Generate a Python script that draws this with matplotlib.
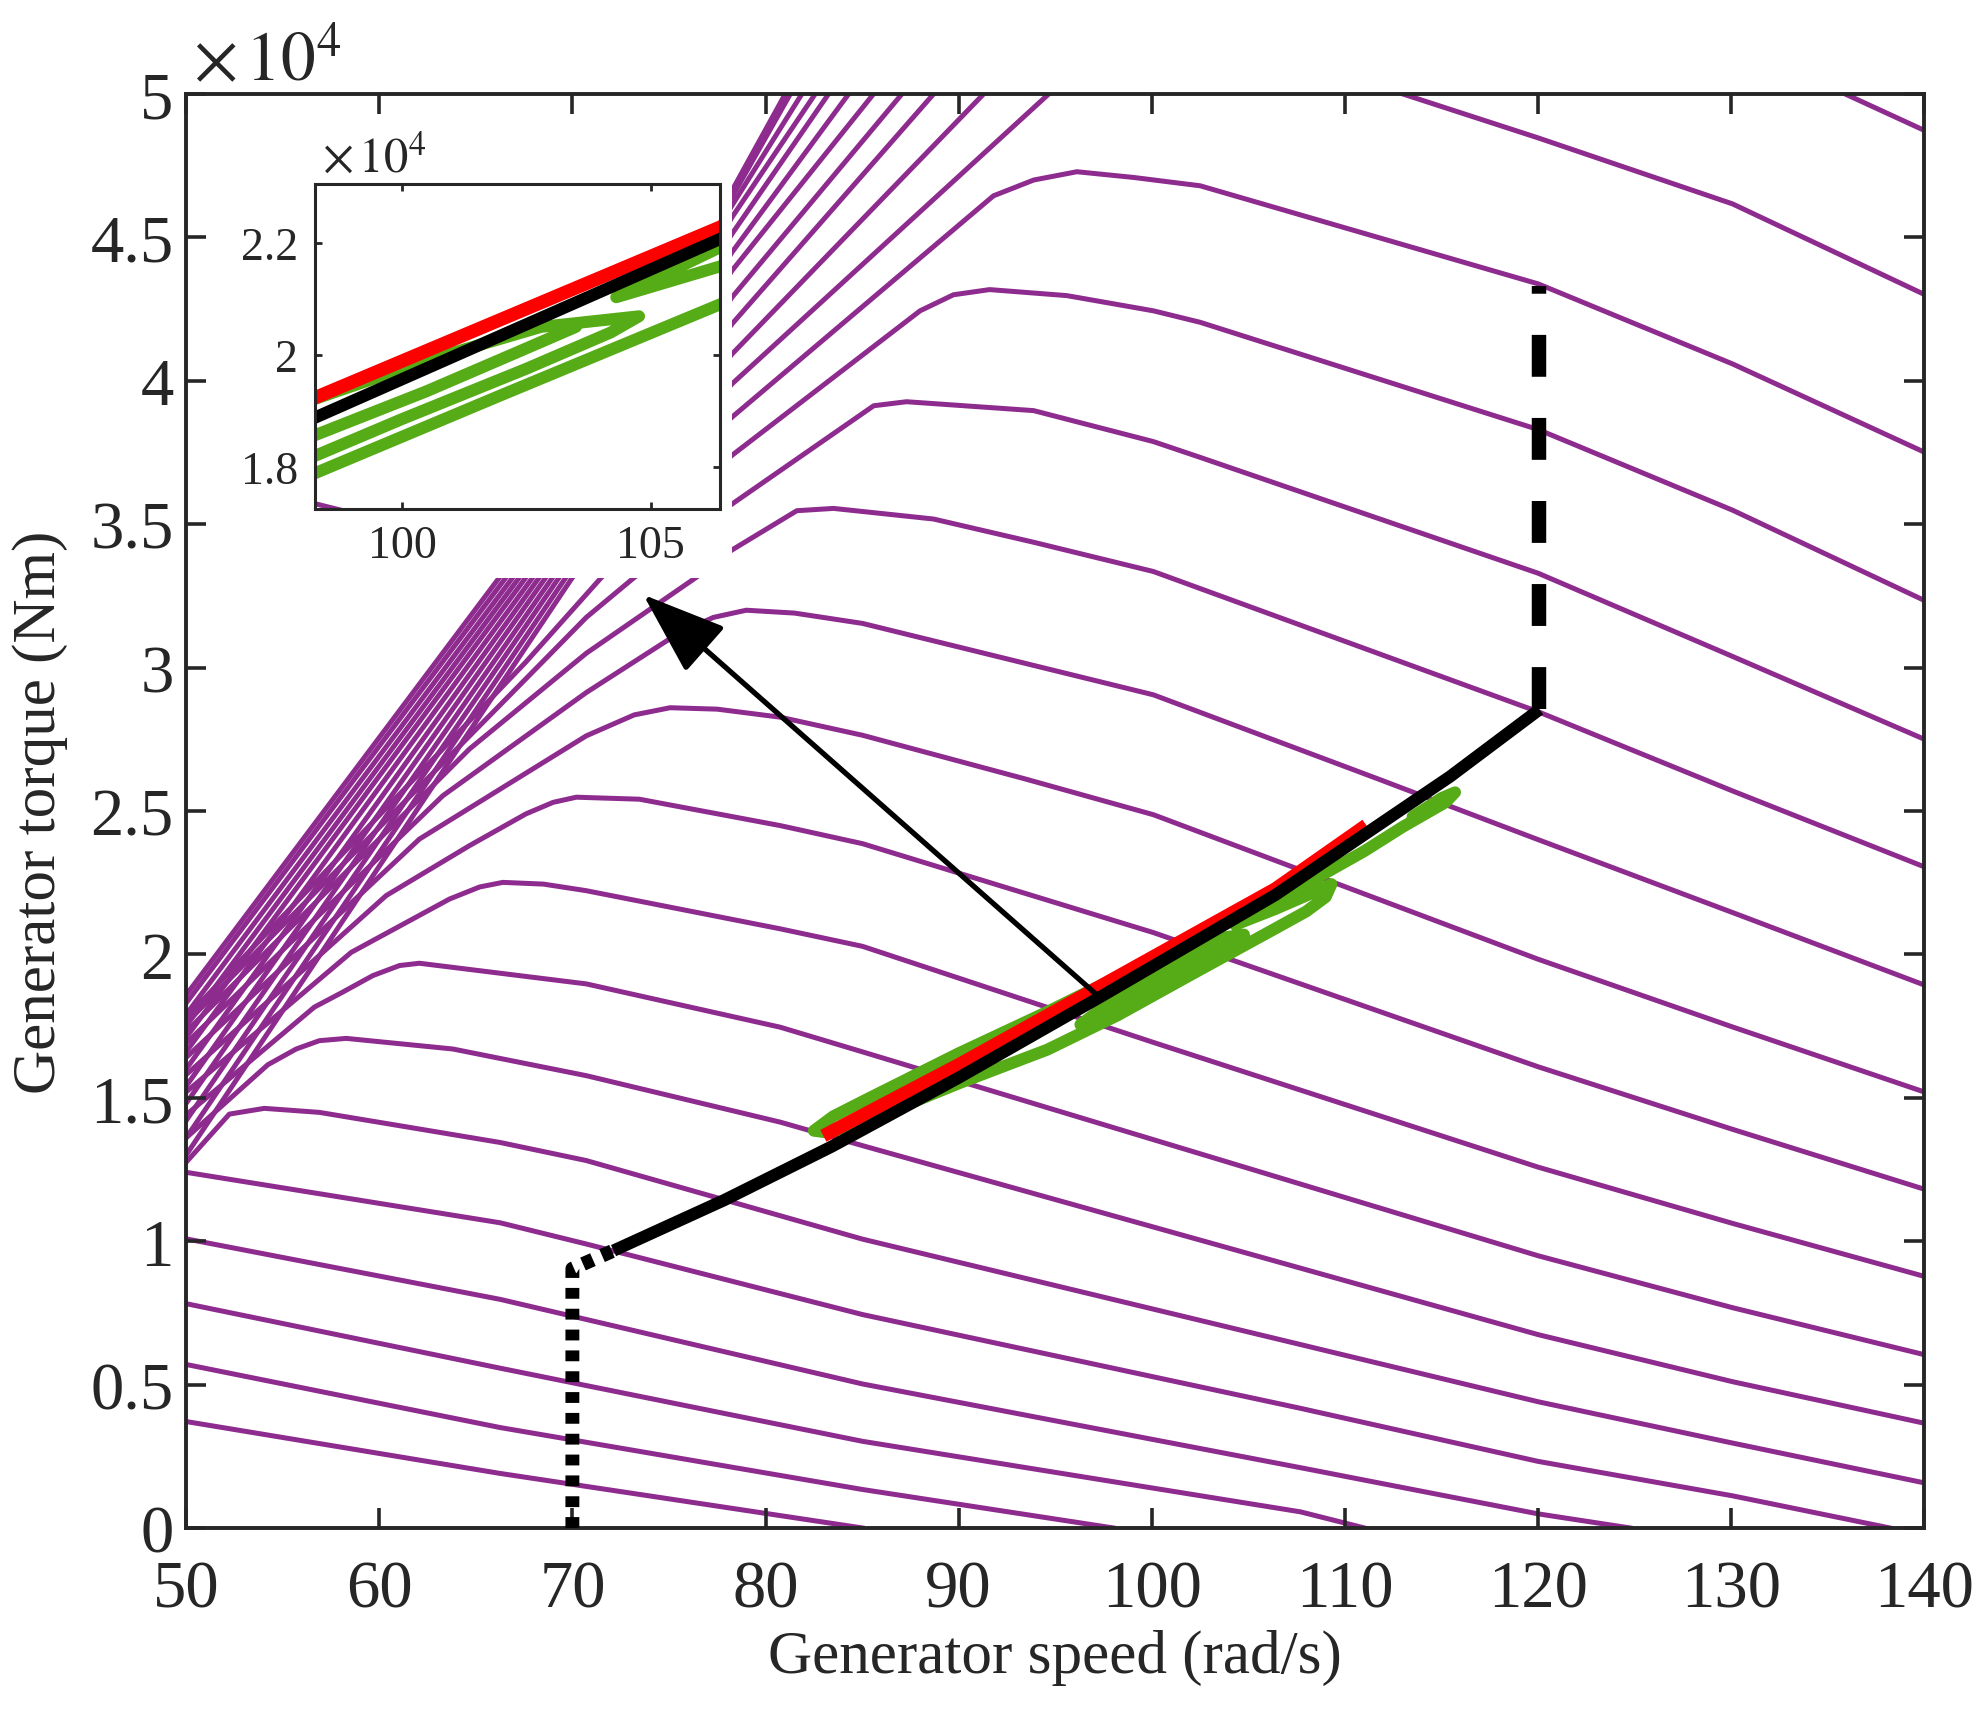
import matplotlib
matplotlib.use('Agg')
import matplotlib.pyplot as plt
import numpy as np
from matplotlib.patches import Rectangle

plt.rcParams['font.family'] = ['Liberation Serif', 'DejaVu Serif']
plt.rcParams['mathtext.fontset'] = 'stix'

nan = np.nan

# torque curves (units of 1e4 Nm)
# curves that only fall inside the window
low_x = [[50, 66.26, 85.0],
         [50, 66.26, 85.02, 98.0],
         [50, 66.26, 85.02, 107.7, 111.0],
         [50, 66.26, 85.02, 107.7, 120, 124.75],
         [50, 66.26, 70.72, 85.02, 107.7, 120, 130.06, 138.2]]
low_y = [[0.371, 0.190, 0.0],
         [0.570, 0.350, 0.134, 0.0],
         [0.782, 0.557, 0.302, 0.056, 0.0],
         [1.008, 0.797, 0.502, 0.210, 0.049, 0.0],
         [1.240, 1.064, 0.990, 0.744, 0.417, 0.232, 0.112, 0.0]]

# curves with a visible maximum
mid_x = [[50, 52.24, 54.05, 56.9, 62.08, 66.26, 70.72, 85.02, 120, 130.06, 140],
         [50, 54.23, 55.7, 56.9, 58.29, 63.81, 70.72, 80.76, 85.02, 120, 130.06, 140],
         [50, 56.64, 58.1, 59.67, 61.05, 62.08, 70.72, 80.76, 85.02, 120, 130.06, 140],
         [50, 58.55, 63.64, 65.2, 66.4, 68.5, 70.72, 80.76, 85.02, 100.08, 120, 130.06, 140],
         [50, 60.36, 64.67, 67.6, 69.0, 70.2, 73.47, 80.76, 85.02, 100.08, 120, 130.06, 140],
         [50, 62.08, 70.72, 73.2, 75.06, 77.5, 80.76, 85.02, 93.48, 100.08, 120, 130.06, 140],
         [50, 63.29, 70.72, 75.5, 77.3, 79.0, 81.5, 85.02, 100.08, 111.74, 120, 130.06, 140],
         [50, 64.67, 70.72, 76.4, 78.26, 81.62, 83.52, 88.7, 93.88, 100.08, 120, 130.06, 140],
         [50, 66.22, 70.72, 73.2, 78.26, 85.6, 87.3, 93.88, 100.08, 102.5, 120, 130.06, 140],
         [50, 67.6, 71.5, 78.26, 88.0, 89.73, 91.6, 95.6, 100.08, 102.5, 120, 130.06, 140],
         [50, 70.0, 78.26, 91.8, 93.88, 96.12, 99.06, 102.5, 120, 130.06, 140]]
mid_y = [[1.275, 1.443, 1.463, 1.449, 1.391, 1.344, 1.281, 1.007, 0.440, 0.296, 0.157],
         [1.36, 1.615, 1.670, 1.699, 1.707, 1.670, 1.577, 1.415, 1.333, 0.674, 0.510, 0.365],
         [1.44, 1.816, 1.868, 1.926, 1.961, 1.969, 1.897, 1.746, 1.660, 0.949, 0.768, 0.604],
         [1.52, 2.007, 2.193, 2.235, 2.251, 2.245, 2.222, 2.089, 2.028, 1.693, 1.258, 1.062, 0.877],
         [1.58, 2.205, 2.379, 2.49, 2.530, 2.548, 2.541, 2.449, 2.386, 2.076, 1.608, 1.390, 1.181],
         [1.64, 2.402, 2.762, 2.835, 2.86, 2.855, 2.827, 2.764, 2.611, 2.487, 1.983, 1.747, 1.520],
         [1.69, 2.553, 2.913, 3.12, 3.175, 3.20, 3.19, 3.154, 2.905, 2.611, 2.400, 2.146, 1.893],
         [1.73, 2.716, 3.05, 3.314, 3.41, 3.547, 3.555, 3.518, 3.437, 3.335, 2.846, 2.570, 2.305],
         [1.76, 2.867, 3.175, 3.314, 3.57, 3.913, 3.927, 3.896, 3.788, 3.733, 3.329, 3.039, 2.750],
         [1.78, 3.02, 3.314, 3.74, 4.244, 4.30, 4.318, 4.297, 4.244, 4.204, 3.830, 3.549, 3.234],
         [1.30, 3.314, 3.873, 4.645, 4.70, 4.729, 4.709, 4.680, 4.338, 4.059, 3.751]]

# curves that leave through the top
high_x = [[50, 69.66, 78.26, 94.66, nan, 113.0, 120, 130.06, 140],
          [50, 69.31, 78.26, 91.29, nan, 135.9, 140],
          [50, 68.97, 78.26, 88.70],
          [50, 68.62, 78.26, 87.06],
          [50, 68.28, 78.26, 85.59],
          [50, 67.94, 78.26, 84.30],
          [50, 67.59, 78.26, 83.26],
          [50, 67.25, 78.26, 82.57],
          [50, 66.91, 78.26, 81.88],
          [50, 66.56, 78.26, 81.28],
          [50, 66.22, 78.26, 81.02]]
high_y = [[1.36, 3.314, 3.989, 5.0, nan, 5.0, 4.847, 4.617, 4.301],
          [1.42, 3.314, 4.093, 5.0, nan, 5.0, 4.873],
          [1.48, 3.314, 4.198, 5.0],
          [1.54, 3.314, 4.291, 5.0],
          [1.60, 3.314, 4.384, 5.0],
          [1.66, 3.314, 4.448, 5.0],
          [1.71, 3.314, 4.512, 5.0],
          [1.75, 3.314, 4.570, 5.0],
          [1.79, 3.314, 4.611, 5.0],
          [1.83, 3.314, 4.640, 5.0],
          [1.858, 3.314, 4.663, 5.0]]

# control curve
ctrl_x = [72.13, 77.89, 83.43, 90.0, 97.29, 106.39, 115.44, 120.07]
ctrl_y = [0.967, 1.144, 1.33, 1.57, 1.85, 2.207, 2.62, 2.854]
low_lim_x = [70, 70, 72.13]
low_lim_y = [0, 0.904, 0.967]
high_lim_x = [120.07, 120.07]
high_lim_y = [2.854, 4.33]

# red trajectory
red_x = [83.3, 90.0, 98.245, 106.39, 110.82]
red_y = [1.378, 1.615, 1.923, 2.228, 2.437]

# green trajectory
green_x = [113.5, 115.0, 115.7, 115.2, 113.0, 111.0, 108.5, 106.39, 104.31, 106.39,
           108.0, 109.3, 109.0, 108.0, 106.39, 102.0, 98.245, 94.6, 90.0, 86.0,
           83.3, 82.5, 83.5, 85.4, 90.0, 94.6, 97.0, 98.245, 100.5, 102.8,
           104.77, 104.2, 102.5, 100.0, 98.245, 96.3, 97.5, 98.245, 100.5, 102.46, 103.5]
green_y = [2.48, 2.545, 2.565, 2.53, 2.445, 2.36, 2.265, 2.192, 2.103, 2.158,
           2.205, 2.245, 2.2, 2.15, 2.090, 1.928, 1.788, 1.668, 1.55, 1.44,
           1.378, 1.385, 1.435, 1.50, 1.655, 1.80, 1.88, 1.921, 1.99, 2.05,
           2.069, 2.04, 1.975, 1.885, 1.819, 1.755, 1.815, 1.856, 1.935, 2.01, 2.05]

arrow_tail = (97.3, 1.85)
arrow_tip = (73.67, 3.254)

purple = '#8E2B8E'
green = '#55AC16'
axcol = '#262626'

fig = plt.figure(figsize=(9.93, 8.575), dpi=200)
ax = fig.add_axes([0.0937, 0.1085, 0.8753, 0.8361])

for xs, ys in zip(low_x + mid_x + high_x, low_y + mid_y + high_y):
    ax.plot(xs, ys, color=purple, lw=1.8, zorder=2)

# white area behind the zoom box
ax.add_patch(Rectangle((50, 3.314), 78.26 - 50, 5.0 - 3.314, facecolor='white',
                       edgecolor='none', zorder=2.3))

ax.plot(green_x, green_y, color=green, lw=4.3, solid_joinstyle='round',
        solid_capstyle='round', zorder=3)
ax.plot(red_x, red_y, color='red', lw=4.8, zorder=3.1)
ax.plot(ctrl_x, ctrl_y, color='k', lw=4.4, solid_capstyle='butt', zorder=3.2)
ax.plot(low_lim_x, low_lim_y, color='k', lw=5.0, dashes=(0.78, 0.72),
        dash_capstyle='butt', zorder=3.2)
ax.plot(high_lim_x, high_lim_y, color='k', lw=5.2, dashes=(2.9, 2.85),
        dash_capstyle='butt', zorder=3.2)

ax.annotate('', xy=arrow_tip, xytext=arrow_tail, zorder=4,
            arrowprops=dict(arrowstyle='-|>,head_length=1.0,head_width=0.36',
                            lw=1.9, color='k', mutation_scale=26,
                            shrinkA=0, shrinkB=0))

ax.set_xlim(50, 140)
ax.set_ylim(0, 5)
ax.set_xticks(np.arange(50, 141, 10))
yt = np.arange(0, 5.01, 0.5)
ax.set_yticks(yt)
ax.set_yticklabels([f'{v:g}' for v in yt])
ax.set_axisbelow(False)
ax.tick_params(direction='in', length=7.3, width=1.3, top=True, right=True,
               labelsize=24, colors=axcol)
ax.tick_params(axis='x', pad=11.5)
ax.tick_params(axis='y', pad=4.5)
for s in ax.spines.values():
    s.set_linewidth(1.4)
    s.set_color(axcol)
ax.set_xlabel('Generator speed (rad/s)', fontsize=22, color=axcol, labelpad=3)
ax.set_ylabel('Generator torque (Nm)', fontsize=22, color=axcol, labelpad=8)
ax.text(0.004, 1.0102, r'$\times\,10^{4}$', transform=ax.transAxes, fontsize=25,
        ha='left', va='baseline', color=axcol)

# zoom box
axins = fig.add_axes([0.15846, 0.70257, 0.20388, 0.18968])
axins.set_facecolor('white')
axins.plot(mid_x[3], mid_y[3], color=purple, lw=1.8)
axins.plot(green_x, green_y, color=green, lw=4.3, solid_joinstyle='round',
           solid_capstyle='round')
axins.plot(red_x, red_y, color='red', lw=4.8)
axins.plot(ctrl_x, ctrl_y, color='k', lw=4.4)
axins.set_xlim(98.245, 106.39)
axins.set_ylim(1.724, 2.306)
axins.set_xticks([100, 105])
axins.set_yticks([1.8, 2.0, 2.2])
axins.set_yticklabels(['1.8', '2', '2.2'])
axins.tick_params(direction='in', length=2.5, width=1.0, top=True, right=True,
                  labelsize=16.5, colors=axcol)
axins.tick_params(axis='x', pad=5.5)
axins.tick_params(axis='y', pad=6)
for s in axins.spines.values():
    s.set_linewidth(1.1)
    s.set_color(axcol)
axins.text(0.017, 1.039, r'$\times\,10^{4}$', transform=axins.transAxes,
           fontsize=17.5, ha='left', va='baseline', color=axcol)

fig.savefig('out.png', dpi=200, facecolor='white')
